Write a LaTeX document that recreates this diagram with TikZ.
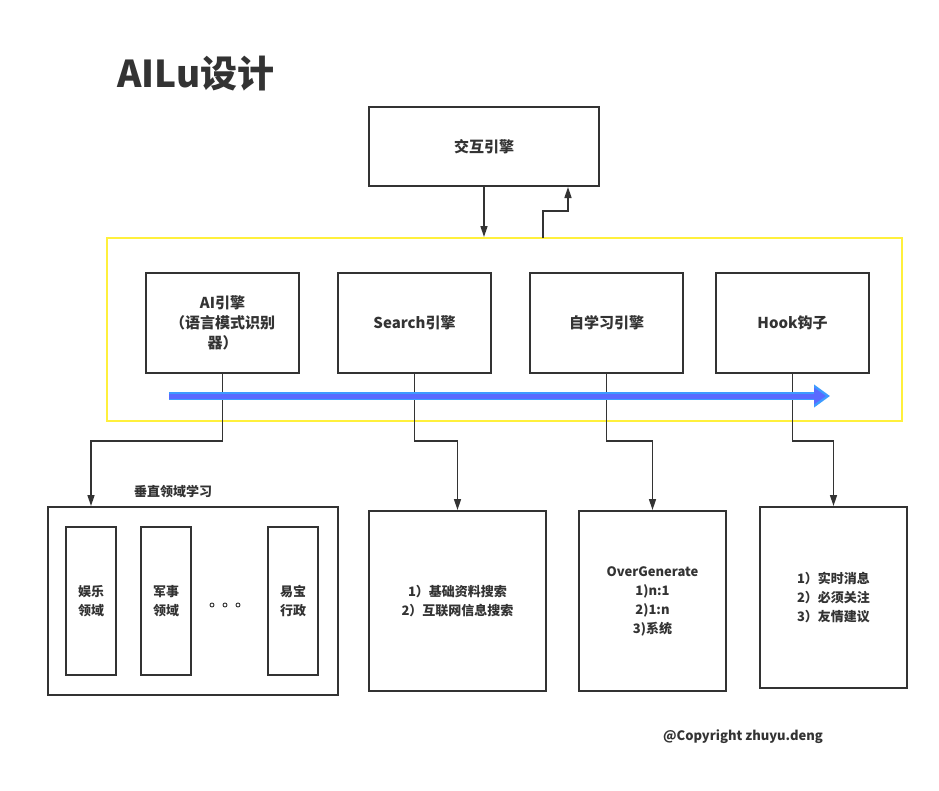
\documentclass[tikz,border=0pt]{standalone}
\usepackage{fontspec}
\setmainfont{Noto Sans CJK SC}
\usetikzlibrary{arrows.meta}
\definecolor{linec}{HTML}{333333}
\definecolor{yel}{HTML}{FFF03C}
\definecolor{blu}{HTML}{5A6AFF}
\definecolor{blul}{HTML}{3D9BFF}
\tikzset{
  box/.style={draw=linec, line width=2pt, align=center, text=linec, font=\fontsize{15}{20}\selectfont\bfseries, inner sep=2pt},
  small/.style={box, font=\fontsize{13}{19}\selectfont\bfseries},
  conn/.style={draw=linec, line width=1.5pt, -{Triangle[length=11pt,width=7pt]}},
}
\begin{document}
\begin{tikzpicture}[x=1pt,y=-1pt]
\useasboundingbox (0,0) rectangle (939,790);
\fill[white] (0,0) rectangle (939,790);
\node[text=linec, font=\fontsize{37}{42}\selectfont\bfseries] (title) at (196,74) {AILu设计};
\node[box, minimum width=230pt, minimum height=79pt] (top) at (484,146.5) {交互引擎};
\node[draw=yel, line width=2pt, minimum width=795pt, minimum height=183pt] (yel) at (504.5,329.5) {};
\node[box, minimum width=153pt, minimum height=100pt] (ai) at (222.5,323) {AI引擎\\（语言模式识别\\器）};
\node[box, minimum width=153pt, minimum height=100pt] (se) at (414.5,323) {Search引擎};
\node[box, minimum width=153pt, minimum height=100pt] (zx) at (606.5,323) {自学习引擎};
\node[box, minimum width=153pt, minimum height=100pt] (hk) at (792.5,323) {Hook钩子};
\node[box, minimum width=290pt, minimum height=188pt] (vert) at (193,601) {};
\node[small, minimum width=50pt, minimum height=148pt] (d1) at (91,601) {娱乐\\领域};
\node[small, minimum width=50pt, minimum height=148pt] (d2) at (166,601) {军事\\领域};
\node[small, minimum width=50pt, minimum height=148pt] (d3) at (293,601) {易宝\\行政};
\node[text=linec, font=\fontsize{13}{16}\selectfont\bfseries] (vlab) at (173,492) {垂直领域学习};
\node[small, minimum width=177pt, minimum height=180pt] (sr) at (457.5,601) {1）基础资料搜索\\2）互联网信息搜索};
\node[small, minimum width=147pt, minimum height=180pt] (og) at (652.5,601) {OverGenerate\\1)n:1\\2)1:n\\3)系统};
\node[small, minimum width=147pt, minimum height=181pt] (msg) at (833.5,597.5) {1）实时消息\\2）必须关注\\3）友情建议};
\node[text=linec, font=\fontsize{13}{16}\selectfont\bfseries] (copy) at (743,737) {@Copyright zhuyu.deng};
\foreach \x in {212,225,238} \draw[linec, line width=0.9pt] (\x,605) circle (2);
% connectors
\draw[conn] (top.south) -- (top.south |- yel.north);
\coordinate (u0) at (543,238);
\coordinate (u1) at (568,211);
\draw[conn] (u0) |- (u1) -- (u1 |- top.south);
\draw[conn] (ai.south) -- ++(0,67) -| (d1 |- vert.north);
\draw[conn] (se.south) -- ++(0,67) -| (sr.north);
\draw[conn] (zx.south) -- ++(0,67) -| (og.north);
\draw[conn] (hk.south) -- ++(0,67) -| (msg.north);
% blue arrow
\coordinate (b0) at (169,396);
\coordinate (b1) at (830,396);
\draw[blul, line width=8pt, -{Triangle[length=16pt,width=22pt]}] (b0) -- (b1);
\draw[blu, line width=5pt, shorten >=4pt, -{Triangle[length=12pt,width=16pt]}] (b0) -- (b1);
\end{tikzpicture}
\end{document}
